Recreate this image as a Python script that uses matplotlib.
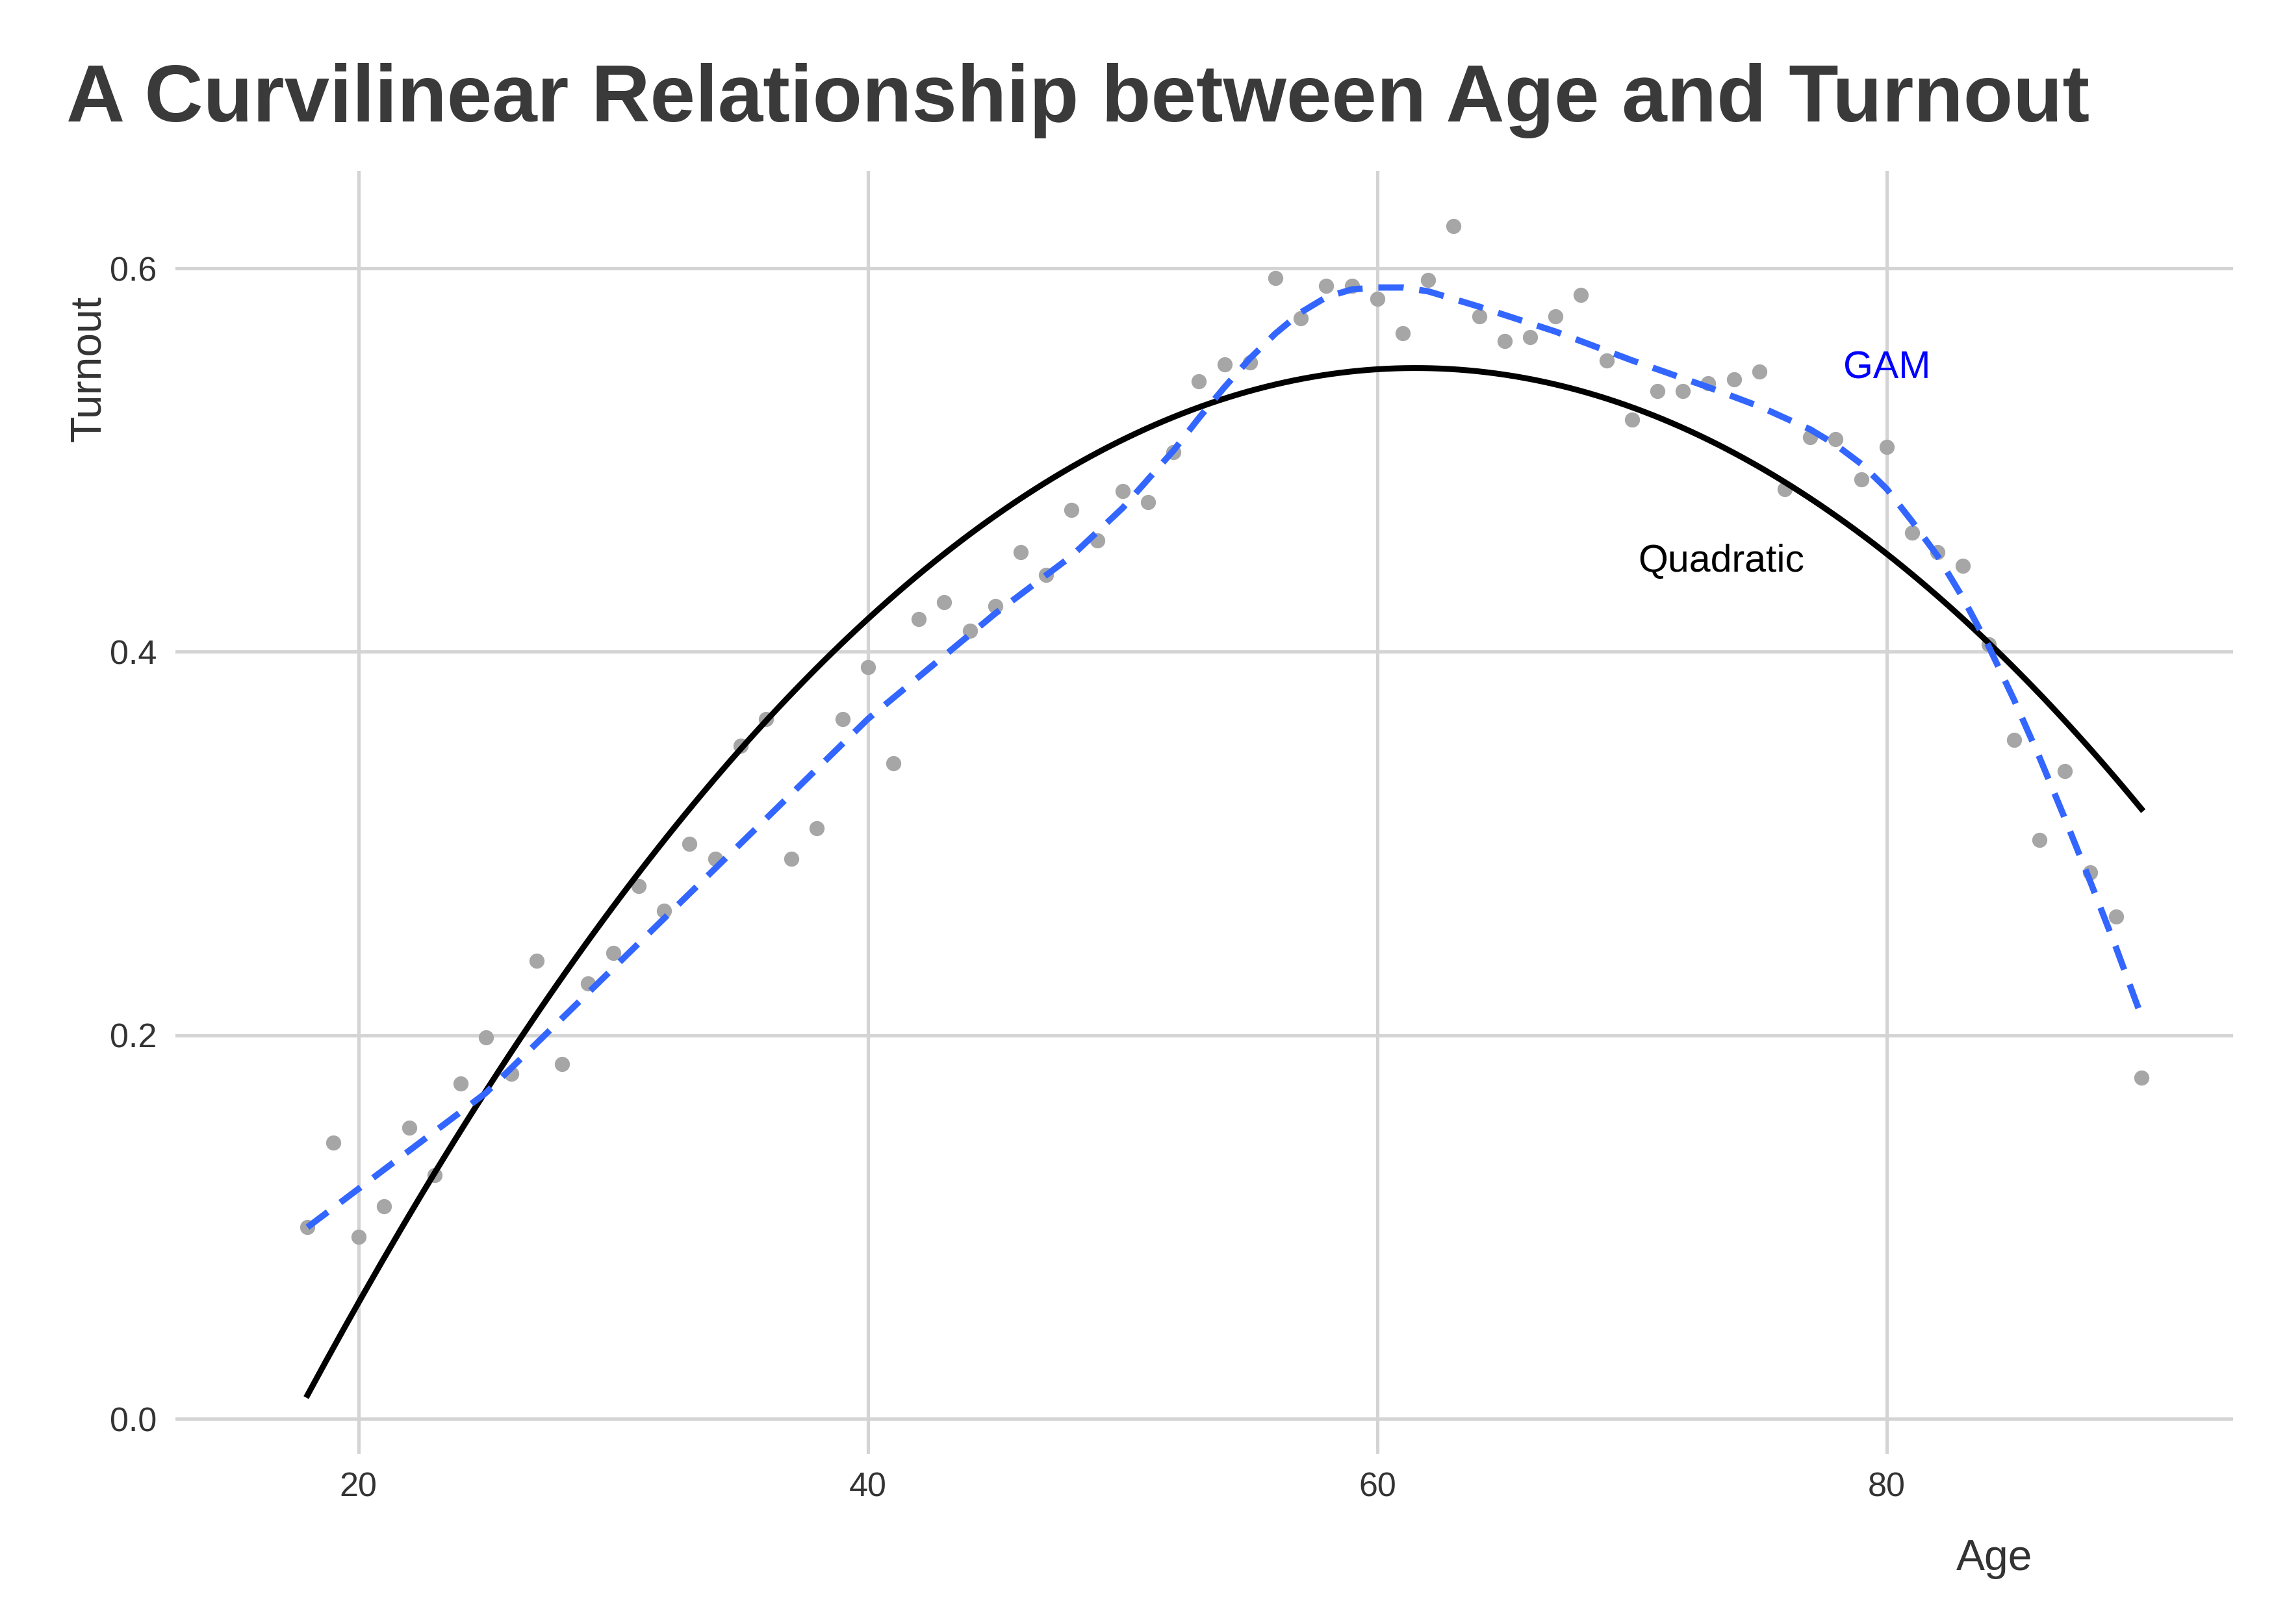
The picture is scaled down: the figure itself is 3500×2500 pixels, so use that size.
import matplotlib.pyplot as plt
import numpy as np

plt.rcParams['font.family'] = ['Liberation Sans', 'DejaVu Sans']

# observed mean turnout by age
age = np.arange(18, 91)
turnout = [0.100, 0.144, 0.095, 0.111, 0.152, 0.127, 0.175, 0.199, 0.180, 0.239,
           0.185, 0.227, 0.243, 0.278, 0.265, 0.300, 0.292, 0.351, 0.365, 0.292,
           0.308, 0.365, 0.392, 0.342, 0.417, 0.426, 0.411, 0.424, 0.452, 0.440,
           0.474, 0.458, 0.484, 0.478, 0.504, 0.541, 0.550, 0.551, 0.595, 0.574,
           0.591, 0.591, 0.584, 0.566, 0.594, 0.622, 0.575, 0.562, 0.564, 0.575,
           0.586, 0.552, 0.521, 0.536, 0.536, 0.540, 0.542, 0.546, 0.485, 0.512,
           0.511, 0.490, 0.507, 0.462, 0.452, 0.445, 0.404, 0.354, 0.302, 0.338,
           0.285, 0.262, 0.178]

# quadratic fit: peak location, peak value, curvature
quad_peak_age = 61.5
quad_peak_val = 0.548
quad_curv = 0.000283

# GAM fitted values
gam_age = [18, 22, 25, 30, 35, 40, 45, 48, 50, 52, 53, 54, 55, 56, 57, 58, 59, 60, 61, 62,
           64, 67, 70, 73, 75, 77, 78, 79, 80, 81, 82, 83, 84, 85, 86, 87, 88, 89, 90]
gam_fit = [0.100, 0.140, 0.170, 0.235, 0.300, 0.365, 0.420, 0.450, 0.475, 0.505, 0.522, 0.538,
           0.553, 0.566, 0.577, 0.585, 0.589, 0.590, 0.590, 0.588, 0.580, 0.567, 0.552, 0.538,
           0.528, 0.516, 0.508, 0.498, 0.485, 0.468, 0.450, 0.428, 0.403, 0.375, 0.345, 0.313,
           0.280, 0.246, 0.210]

fig = plt.figure(figsize=(14, 10), dpi=250)
ax = fig.add_axes([0.077, 0.105, 0.905, 0.79])

ax.scatter(age, turnout, s=45, color='#a6a6a6', zorder=2, linewidths=0)
qx = np.linspace(18, 90, 200)
ax.plot(qx, quad_peak_val - quad_curv * (qx - quad_peak_age) ** 2, color='black', lw=2.6, zorder=3)
ax.plot(gam_age, gam_fit, color='#3366ff', lw=2.8, ls=(0, (4, 2.5)), zorder=4)

ax.text(80, 0.548, "GAM", color='blue', fontsize=17, ha='center', va='center')
ax.text(73.5, 0.447, "Quadratic", color='black', fontsize=17, ha='center', va='center')

ax.set_xlim(12.8, 93.6)
ax.set_ylim(-0.018, 0.651)
ax.set_xticks([20, 40, 60, 80])
ax.set_yticks([0.0, 0.2, 0.4, 0.6])
ax.set_yticklabels(["0.0", "0.2", "0.4", "0.6"])
ax.grid(True, color='#d4d4d4', lw=1.5)
ax.set_axisbelow(True)
for s in ax.spines.values():
    s.set_visible(False)
ax.tick_params(length=0, labelsize=15, colors='#333333', pad=8)

fig.text(0.029, 0.938, "A Curvilinear Relationship between Age and Turnout",
         fontsize=36, fontweight='bold', color='#3a3a3a', va='center')
fig.text(0.877, 0.04, "Age", fontsize=19, color='#333333', ha='center', va='center')
fig.text(0.039, 0.773, "Turnout", fontsize=19, color='#333333', rotation=90, ha='center', va='center')

fig.savefig("out.png", dpi=250)
